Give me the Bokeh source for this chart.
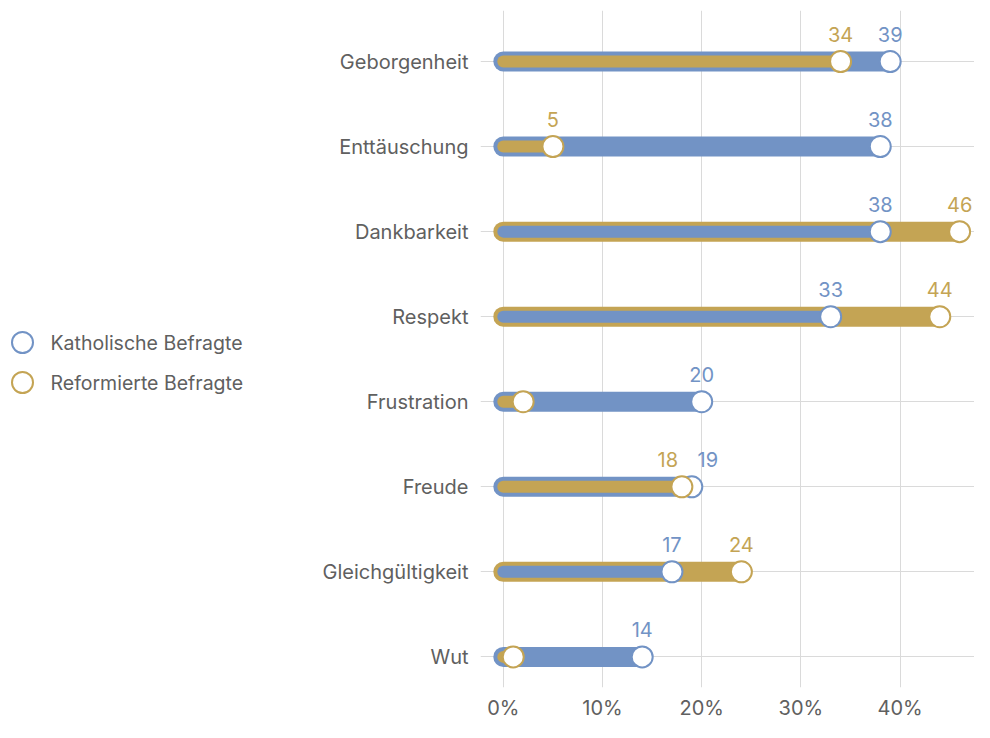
from bokeh.plotting import figure
from bokeh.layouts import row
from bokeh.models import ColumnDataSource, Range1d, PrintfTickFormatter, FixedTicker
from bokeh.core.properties import value
from bokeh.embed import file_html
from bokeh.resources import INLINE

# ---------------- data ----------------
categories = ["Geborgenheit", "Enttäuschung", "Dankbarkeit", "Respekt",
              "Frustration", "Freude", "Gleichgültigkeit", "Wut"]
katholisch = [39, 38, 38, 33, 20, 19, 17, 14]
reformiert = [34, 5, 46, 44, 2, 18, 24, 1]
series_names = ["Katholische Befragte", "Reformierte Befragte"]
series_colors = ["#7293C5", "#C4A454"]
x_ticks = [0, 10, 20, 30, 40]

FONT = "Inter"
TEXT_COLOR = "#606060"
GRID_COLOR = "#dadada"

n = len(categories)
y_pos = {cat: n - 1 - i for i, cat in enumerate(categories)}

# ---------------- derived layers ----------------
outer = dict(y=[], x=[], color=[], label=[], dx=[])
inner = dict(y=[], x=[], color=[], label=[], dx=[])
for cat, k, r in zip(categories, katholisch, reformiert):
    vals = [(k, series_colors[0]), (r, series_colors[1])]
    big, small = (vals[0], vals[1]) if k >= r else (vals[1], vals[0])
    close = abs(k - r) < 3
    for layer, (v, c), dx in ((outer, big, 16 if close else 0),
                              (inner, small, -14 if close else 0)):
        layer["y"].append(y_pos[cat])
        layer["x"].append(v)
        layer["color"].append(c)
        layer["label"].append(str(v) if v >= 3 else "")
        layer["dx"].append(dx)
for layer in (outer, inner):
    layer["zero"] = [0] * len(layer["x"])

src_outer = ColumnDataSource(outer)
src_inner = ColumnDataSource(inner)

# ---------------- main figure ----------------
p = figure(width=694, height=722, output_backend="svg", toolbar_location=None,
           y_range=Range1d(-0.36, n - 1 + 0.6),
           x_range=Range1d(-2.3, 47.5),
           min_border_left=200, min_border_right=0, min_border_top=10, min_border_bottom=33)
p.outline_line_color = None
p.background_fill_color = "white"
p.border_fill_color = "white"

p.xgrid.ticker = FixedTicker(ticks=x_ticks)
p.xgrid.grid_line_color = GRID_COLOR
p.ygrid.ticker = FixedTicker(ticks=list(range(n)))
p.ygrid.grid_line_color = GRID_COLOR

p.xaxis.ticker = FixedTicker(ticks=x_ticks)
p.xaxis.formatter = PrintfTickFormatter(format="%d%%")
p.yaxis.ticker = FixedTicker(ticks=list(range(n)))
p.yaxis.major_label_overrides = {y_pos[c]: c for c in categories}
for ax in (p.xaxis[0], p.yaxis[0]):
    ax.axis_line_color = None
    ax.major_tick_line_color = None
    ax.minor_tick_line_color = None
    ax.major_label_text_font = FONT
    ax.major_label_text_font_size = "20px"
    ax.major_label_text_color = TEXT_COLOR
p.xaxis.major_label_standoff = 2
p.yaxis.major_label_standoff = 6

# bars
p.segment(x0="zero", y0="y", x1="x", y1="y", source=src_outer,
          line_color="color", line_width=20, line_cap="round")
p.scatter(x="x", y="y", source=src_outer, size=21, marker="circle",
          fill_color="white", line_color="color", line_width=2)
p.segment(x0="zero", y0="y", x1="x", y1="y", source=src_inner,
          line_color="color", line_width=12, line_cap="round")
p.scatter(x="x", y="y", source=src_inner, size=21, marker="circle",
          fill_color="white", line_color="color", line_width=2)

for src in (src_outer, src_inner):
    p.text(x="x", y="y", text="label", source=src, x_offset="dx", y_offset=-27,
           text_align="center", text_baseline="alphabetic",
           text_font=value(FONT), text_font_size="20px", text_color="color")

# ---------------- legend figure ----------------
# the row aligns this figure's frame with the main frame (y 10..687)
leg = figure(width=280, height=722, output_backend="svg", toolbar_location=None,
             title=None, x_axis_location=None, y_axis_location=None,
             x_range=Range1d(0, 280), y_range=Range1d(687, 10),
             min_border=0, min_border_left=0, min_border_right=0,
             min_border_top=0, min_border_bottom=0)
leg.grid.visible = False
leg.outline_line_color = None
leg_src = ColumnDataSource(dict(
    name=series_names, color=series_colors,
    x=[22] * len(series_names),
    tx=[50] * len(series_names),
    y=[342 + 40 * i for i in range(len(series_names))],
))
leg.scatter(x="x", y="y", source=leg_src, size=21, marker="circle",
            fill_color="white", line_color="color", line_width=2)
leg.text(x="tx", y="y", text="name", source=leg_src, text_align="left",
         text_baseline="middle", text_font=value(FONT), text_font_size="19.5px",
         text_color=TEXT_COLOR)

layout = row(leg, p)
open("out.html", "w").write(file_html(layout, INLINE))
